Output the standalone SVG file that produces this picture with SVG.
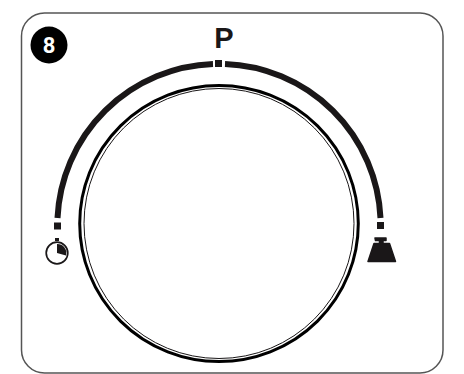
<svg xmlns="http://www.w3.org/2000/svg" width="464" height="374" viewBox="0 0 464 374">
<style>
.k{fill:#1a1718}
.arc{fill:none;stroke:#1a1718;stroke-width:6}
</style>
<rect width="464" height="374" fill="#fff"/>
<g id="card"><rect x="21.5" y="13" width="421.5" height="360" rx="23" fill="#fff" stroke="#555" stroke-width="1.5"/></g>
<g id="badge"><circle cx="49" cy="45" r="18.500" fill="#000"/>
<text x="49" y="53" font-family="Roboto,sans-serif" font-weight="700" font-size="22" fill="#fff" text-anchor="middle">8</text></g>
<g id="dial"><ellipse cx="219" cy="223.500" rx="139.300" ry="138" fill="none" stroke="#000" stroke-width="3"/>
<circle cx="219" cy="223.500" r="135" fill="none" stroke="#1a1718" stroke-width="1"/></g>
<g id="scale">
<path class="arc" d="M57.500 218A161.500 161.500 0 0 1 213 64"/>
<path class="arc" d="M225 64A161.500 161.500 0 0 1 380.500 218"/>
<rect class="k" x="215" y="60" width="7" height="7"/>
<rect class="k" x="54" y="222.500" width="7" height="7"/>
<rect class="k" x="377" y="222" width="7" height="7"/>
</g>
<g id="label-p"><text x="224" y="48" font-family="'Liberation Sans',sans-serif" font-weight="700" font-size="29" fill="#1a1718" text-anchor="middle">P</text></g>
<g id="clock"><circle cx="57" cy="253" r="10.800" fill="#fff" stroke="#1a1718" stroke-width="1.700"/>
<rect class="k" x="55" y="238" width="4" height="3"/>
<path class="k" d="M57 244L57 253L66 255.500A9 9 0 0 0 57 244Z"/></g>
<g id="weight"><path class="k" stroke="#1a1718" stroke-width="1.500" stroke-linejoin="round" d="M375 238h11v2.500h-3v3h6.500l6 18h-27.500l6-18h5.500v-3h-4z"/></g>
</svg>
